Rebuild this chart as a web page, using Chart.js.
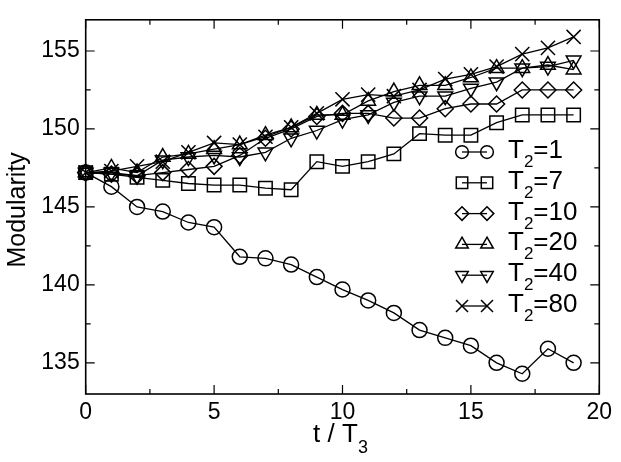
<!DOCTYPE html>
<html>
<head>
<meta charset="utf-8">
<script src="https://cdn.jsdelivr.net/npm/chart.js@4.4.1/dist/chart.umd.min.js"></script>
<style>
  html, body { margin: 0; padding: 0; background: #fff; }
</style>
</head>
<body>
<canvas id="chart" width="621" height="462"></canvas>
<script>
// data
var steps = [0, 1, 2, 3, 4, 5, 6, 7, 8, 9, 10, 11, 12, 13, 14, 15, 16, 17, 18, 19];
var modT1  = [147.2, 146.3, 145.0, 144.7, 144.0, 143.7, 141.8, 141.7, 141.3, 140.5, 139.7, 139.0, 138.2, 137.1, 136.6, 136.1, 135.0, 134.3, 135.9, 135.0];
var modT7  = [147.2, 147.1, 146.9, 146.7, 146.5, 146.4, 146.4, 146.2, 146.1, 147.9, 147.6, 147.9, 148.4, 149.7, 149.6, 149.6, 150.4, 150.9, 150.9, 150.9];
var modT10 = [147.2, 147.1, 147.0, 147.2, 147.4, 147.6, 148.3, 149.4, 150.0, 150.8, 151.0, 151.0, 150.7, 150.7, 151.3, 151.6, 151.6, 152.5, 152.5, 152.5];
var modT20 = [147.2, 147.5, 147.2, 148.2, 148.4, 148.7, 149.0, 149.6, 150.1, 150.9, 150.9, 151.8, 152.4, 152.8, 152.8, 153.3, 153.9, 153.9, 154.1, 153.8];
var modT40 = [147.2, 147.2, 147.0, 148.0, 148.2, 148.3, 148.2, 148.5, 149.4, 149.9, 150.6, 150.9, 151.7, 152.1, 152.1, 152.6, 153.0, 153.9, 154.0, 154.4];
var modT80 = [147.2, 147.3, 147.6, 147.9, 148.5, 149.1, 149.0, 149.5, 150.1, 151.0, 151.9, 152.2, 152.1, 152.5, 153.2, 153.5, 154.0, 154.8, 155.2, 155.9];
var seriesNames = ["1", "7", "10", "20", "40", "80"];
var xTicks = [0, 5, 10, 15, 20];
var yTicks = [135, 140, 145, 150, 155];

var FONT = "'Liberation Sans', Arial, sans-serif";

function toPoints(vals) {
  return vals.map(function(v, i) { return { x: steps[i], y: v }; });
}

// marker looks, one per series
var markers = [
  { pointStyle: 'circle',   radius: 7.5, rotation: 0 },
  { pointStyle: 'rect',     radius: 9.5, rotation: 0 },
  { pointStyle: 'rectRot',  radius: 8,   rotation: 0 },
  { pointStyle: 'triangle', radius: 8.5, rotation: 0 },
  { pointStyle: 'triangle', radius: 8.5, rotation: 180 },
  { pointStyle: 'crossRot', radius: 10,  rotation: 0 }
];

var allSeries = [modT1, modT7, modT10, modT20, modT40, modT80];
var datasets = [];
for (var i = 0; i < allSeries.length; i++) {
  datasets.push({
    label: "T2=" + seriesNames[i],
    data: toPoints(allSeries[i]),
    borderColor: '#000',
    borderWidth: 1.3,
    backgroundColor: 'rgba(0,0,0,0)',
    pointStyle: markers[i].pointStyle,
    pointRadius: markers[i].radius,
    pointRotation: markers[i].rotation,
    pointBorderColor: '#000',
    pointBackgroundColor: 'rgba(0,0,0,0)',
    pointBorderWidth: 1.5,
    tension: 0,
    clip: false
  });
}

function drawMarker(ctx, m, x, y, scale) {
  ctx.save();
  ctx.strokeStyle = '#000';
  ctx.fillStyle = 'rgba(0,0,0,0)';
  ctx.lineWidth = 1.5;
  Chart.helpers.drawPoint(ctx, {
    pointStyle: m.pointStyle,
    radius: m.radius * scale,
    rotation: m.rotation,
    borderWidth: 1.5
  }, x, y);
  ctx.restore();
}

// text with a subscript part, e.g. T + 2 + =1
function subText(ctx, parts, x, y, size, subSize, subDrop) {
  ctx.textBaseline = 'alphabetic';
  ctx.textAlign = 'left';
  for (var k = 0; k < parts.length; k++) {
    var isSub = (k % 2 == 1);
    ctx.font = (isSub ? subSize : size) + "px " + FONT;
    ctx.fillText(parts[k], x, isSub ? y + subDrop : y);
    x += ctx.measureText(parts[k]).width;
  }
}

var framePlugin = {
  id: 'frame',
  beforeDatasetsDraw: function(chart) {
    var ctx = chart.ctx, a = chart.chartArea;
    var xs = chart.scales.x, ys = chart.scales.y;
    ctx.save();
    ctx.strokeStyle = '#000';
    ctx.lineWidth = 1.6;
    ctx.strokeRect(a.left, a.top, a.right - a.left, a.bottom - a.top);
    ctx.lineWidth = 1.2;
    ctx.beginPath();
    // ticks point inwards on all four sides
    xTicks.forEach(function(v, k) {
      var lens = [[v, 9]];
      if (k < xTicks.length - 1) lens.push([(v + xTicks[k + 1]) / 2, 5]);
      lens.forEach(function(t) {
        var px = xs.getPixelForValue(t[0]);
        ctx.moveTo(px, a.bottom); ctx.lineTo(px, a.bottom - t[1]);
        ctx.moveTo(px, a.top); ctx.lineTo(px, a.top + t[1]);
      });
    });
    var yAll = [];
    yTicks.forEach(function(v) { yAll.push([v, 9]); });
    for (var v = yTicks[0] - 2.5; v < ys.max; v += 5) {
      if (v > ys.min) yAll.push([v, 5]);
    }
    yAll.forEach(function(t) {
      var py = ys.getPixelForValue(t[0]);
      ctx.moveTo(a.left, py); ctx.lineTo(a.left + t[1], py);
      ctx.moveTo(a.right, py); ctx.lineTo(a.right - t[1], py);
    });
    ctx.stroke();
    ctx.restore();
  },
  afterDraw: function(chart) {
    var ctx = chart.ctx, a = chart.chartArea;
    ctx.save();
    ctx.fillStyle = '#000';

    // y title
    ctx.save();
    ctx.translate(25, (a.top + a.bottom) / 2 + 3);
    ctx.rotate(-Math.PI / 2);
    ctx.font = "25px " + FONT;
    ctx.textAlign = 'center';
    ctx.textBaseline = 'alphabetic';
    ctx.fillText("Modularity", 0, 0);
    ctx.restore();

    // x title: t / T3
    ctx.font = "26px " + FONT;
    var w1 = ctx.measureText("t / T").width;
    ctx.font = "18px " + FONT;
    var w2 = ctx.measureText("3").width;
    var cx = (a.left + a.right) / 2 - 2;
    subText(ctx, ["t / T", "3"], cx - (w1 + w2) / 2, 442, 26, 18, 11);

    // legend
    var ly0 = 152, dy = 30.8;
    for (var i = 0; i < datasets.length; i++) {
      var ly = ly0 + i * dy;
      ctx.save();
      ctx.strokeStyle = '#000';
      ctx.lineWidth = 1.3;
      ctx.beginPath();
      ctx.moveTo(462, ly); ctx.lineTo(487, ly);
      ctx.stroke();
      ctx.restore();
      drawMarker(ctx, markers[i], 462, ly, 0.85);
      drawMarker(ctx, markers[i], 487, ly, 0.85);
      ctx.fillStyle = '#000';
      subText(ctx, ["T", "2", "=" + seriesNames[i]], 508, ly + 6, 26, 17, 9);
    }
    ctx.restore();
  }
};

var ctx = document.getElementById('chart').getContext('2d');
var chart = new Chart(ctx, {
  type: 'line',
  data: { datasets: datasets },
  options: {
    responsive: false,
    animation: false,
    devicePixelRatio: 1,
    layout: { padding: { top: 6.7, right: 21.7, left: 0, bottom: 0 } },
    plugins: { legend: { display: false }, tooltip: { enabled: false } },
    scales: {
      x: {
        type: 'linear',
        min: 0, max: 20,
        grid: { display: false, drawTicks: false },
        border: { display: false },
        afterBuildTicks: function(s) { s.ticks = xTicks.map(function(v) { return { value: v }; }); },
        afterFit: function(s) { s.height = 68; },
        ticks: { color: '#000', padding: 5, maxRotation: 0, font: { family: FONT, size: 23 } }
      },
      y: {
        min: 133, max: 157,
        grid: { display: false, drawTicks: false },
        border: { display: false },
        afterBuildTicks: function(s) { s.ticks = yTicks.map(function(v) { return { value: v }; }); },
        afterFit: function(s) { s.width = 85.7; },
        ticks: { color: '#000', padding: 6, font: { family: FONT, size: 23 } }
      }
    }
  },
  plugins: [framePlugin]
});
</script>
</body>
</html>
